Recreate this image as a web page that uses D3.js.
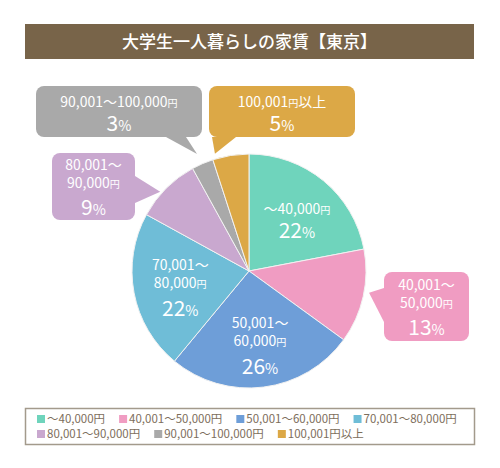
<!DOCTYPE html>
<html>
<head>
<meta charset="utf-8">
<script src="https://cdn.jsdelivr.net/npm/d3@7"></script>
<style>
  body { margin: 0; background: #fff; }
  text { font-family: "Noto Sans CJK JP", "Noto Sans", sans-serif; }
</style>
</head>
<body>
<svg id="chart" width="500" height="468"></svg>
<script>
// data
var title = "大学生一人暮らしの家賃【東京】";
var categories = ["～40,000円", "40,001～50,000円", "50,001～60,000円", "70,001～80,000円",
                  "80,001～90,000円", "90,001～100,000円", "100,001円以上"];
var values = [22, 13, 26, 22, 9, 3, 5];
var colors = ["#6fd4bc", "#f09cc2", "#6e9ed8", "#6fbdd7", "#c9a8cf", "#a9a9a9", "#dca846"];
var labelLines = [["～40,000円"], ["40,001～", "50,000円"], ["50,001～", "60,000円"], ["70,001～", "80,000円"],
                  ["80,001～", "90,000円"], ["90,001～100,000円"], ["100,001円以上"]];

// callouts for the slices whose label sits outside (box x,y,w,h + tail)
var callouts = {
  1: { box: [384, 272, 85, 69], base: [[384, 288], [384, 322]], tipAngle: 0.45, tipR: 122 },
  4: { box: [52, 153, 83, 67], base: [[135, 176], [135, 203]], tipAngle: 0.4, tipR: 119 },
  5: { box: [36, 86, 166, 51], base: [[166, 137], [186, 137]], tipAngle: 0.45, tipR: 128 },
  6: { box: [209, 86, 146, 51], base: [[212, 137], [236, 137]], tipAngle: 0.1, tipR: 122 }
};

var svg = d3.select("#chart");
var cx = 249, cy = 271, R = 117;

// title bar
svg.append("rect").attr("x", 25).attr("y", 24).attr("width", 449).attr("height", 35).attr("fill", "#786449");
svg.append("text").attr("x", 249.5).attr("y", 48).attr("text-anchor", "middle")
  .attr("fill", "#fff").attr("font-size", 17).attr("font-weight", 500).text(title);

var pie = d3.pie().sort(null).value(function(d){ return d; });
var arcs = pie(values);
var arc = d3.arc().innerRadius(0).outerRadius(R);
var labelArc = d3.arc().innerRadius(72).outerRadius(72);

var g = svg.append("g").attr("transform", "translate(" + cx + "," + cy + ")");

g.selectAll("path.slice").data(arcs).enter().append("path")
  .attr("class", "slice")
  .attr("d", arc)
  .attr("fill", function(d, i){ return colors[i]; })
  .attr("stroke", "#f2f2f2")
  .attr("stroke-width", 1);

// write a line, making 円 and % smaller
function writeLine(sel, str, size) {
  var parts = str.split(/(円|%)/);
  parts.forEach(function(p){
    if (p === "") return;
    var small = (p === "円" || p === "%");
    sel.append("tspan").attr("font-size", small ? (p === "%" ? size * 0.68 : size * 0.72) : size).text(p);
  });
}

function drawLabel(parent, x, y, lines, pct) {
  var offs = lines.length === 1 ? [-10, 12] : [-22, -4, 21];
  lines.forEach(function(l, k){
    var t = parent.append("text").attr("x", x).attr("y", y + offs[k] + 5)
      .attr("text-anchor", "middle").attr("fill", "#fff");
    writeLine(t, l, 14);
  });
  var t = parent.append("text").attr("x", x).attr("y", y + offs[lines.length] + 7.5)
    .attr("text-anchor", "middle").attr("fill", "#fff");
  writeLine(t, pct + "%", 21);
}

arcs.forEach(function(d, i){
  var c = callouts[i];
  if (!c) {
    var p = labelArc.centroid(d);
    drawLabel(svg, cx + p[0] + 2, cy + p[1] + 3, labelLines[i], values[i]);
    return;
  }
  var a = d.startAngle + (d.endAngle - d.startAngle) * c.tipAngle;
  var tip = [cx + c.tipR * Math.sin(a), cy - c.tipR * Math.cos(a)];
  svg.append("rect").attr("x", c.box[0]).attr("y", c.box[1]).attr("width", c.box[2]).attr("height", c.box[3])
    .attr("rx", 8).attr("fill", colors[i]);
  svg.append("path")
    .attr("d", "M" + c.base[0] + "L" + tip + "L" + c.base[1] + "Z")
    .attr("fill", colors[i]);
  drawLabel(svg, c.box[0] + c.box[2] / 2, c.box[1] + c.box[3] / 2, labelLines[i], values[i]);
});

// legend
svg.append("rect").attr("x", 25.5).attr("y", 408.5).attr("width", 449).attr("height", 36)
  .attr("fill", "#fff").attr("stroke", "#a39a8c").attr("stroke-width", 1.5);
var lx = 37, ly = 419, rowH = 15;
categories.forEach(function(name, i){
  if (i === 4) { lx = 37; ly += rowH; }
  svg.append("rect").attr("x", lx).attr("y", ly - 4).attr("width", 8).attr("height", 8).attr("fill", colors[i]);
  var t = svg.append("text").attr("x", lx + 10).attr("y", ly + 4).attr("font-size", 11.5).attr("fill", "#7d6e5c").text(name);
  lx += 10 + t.node().getComputedTextLength() + 14;
});
</script>
</body>
</html>
